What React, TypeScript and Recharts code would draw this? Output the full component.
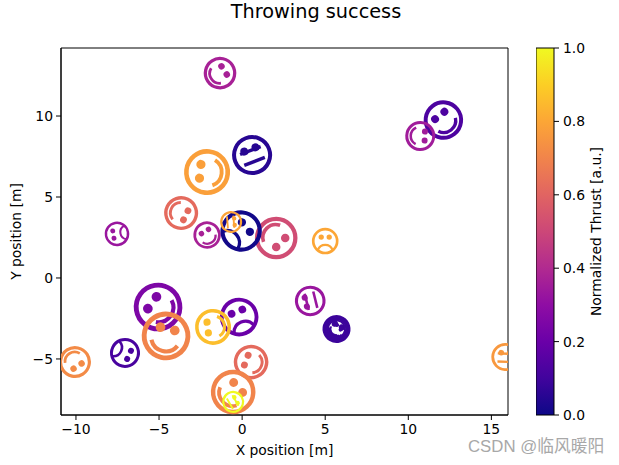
import { Bar, BarChart, ReferenceArea, Scatter, ScatterChart, XAxis, YAxis } from 'recharts';

const xValues = [-1.33, 0.6, -2.11, -3.67, -7.53, -2.11, 2.05, -0.06, -0.66, 5.0, -0.18, 4.1, 5.68, 5.68, 5.68, 5.68, -5.06, -4.58, -1.75, -7.05, -10.06, 0.54, -0.54, -0.54, 12.11, 10.72, 15.84];
const yValues = [12.65, 7.59, 6.54, 4.01, 2.72, 2.65, 2.47, 2.9, 3.46, 2.28, -2.41, -1.42, -3.15, -3.15, -3.15, -3.15, -1.79, -3.58, -3.02, -4.63, -5.19, -5.19, -7.04, -7.65, 9.75, 8.77, -4.88];
const sizes = [16.3, 20, 23, 17, 12.3, 13.7, 21.3, 20.7, 11, 13.3, 19.3, 15.3, 14, 12.5, 11, 9.5, 24.3, 24.3, 18, 15, 16, 17.3, 22.3, 11, 19.7, 15, 14];
const tilts = [57, -21, -84, 116, -100, -31, 135, 50, 85, 0, -22, -104, 30, 20, 40, 55, -54, 13, -97, 115, 147, -69, 48, 60, -38, 92, 2];
const moods = ['smile', 'flat', 'smile', 'smile', 'frown', 'smile', 'smile', 'frown', 'flat', 'frown', 'frown', 'flat', 'smile', 'smile', 'smile', 'smile', 'smile', 'smile', 'smile', 'frown', 'smile', 'smile', 'smile', 'flat', 'smile', 'smile', 'flat'];
const thrusts = [0.37, 0.05, 0.78, 0.62, 0.33, 0.37, 0.52, 0.01, 0.79, 0.8, 0.2, 0.33, 0.09, 0.09, 0.09, 0.09, 0.25, 0.7, 0.86, 0.12, 0.72, 0.62, 0.7, 1.0, 0.13, 0.35, 0.76];

const xTicks = [-10, -5, 0, 5, 10, 15];
const yTicks = [-5, 0, 5, 10];
const barTicks = [0, 0.2, 0.4, 0.6, 0.8, 1];
const plasma = ['#0d0887', '#41049d', '#6a00a8', '#8f0da4', '#b12a90', '#cc4778', '#e16462', '#f1844b', '#fca636', '#fcce25', '#f0f921'];

const points = xValues.map((x, i) => ({
  x,
  y: yValues[i],
  size: sizes[i],
  tilt: tilts[i],
  mood: moods[i],
  thrust: thrusts[i],
}));
const barData = [{ name: 'thrust', value: 1 }];

function hex(c: string) {
  return [1, 3, 5].map((i) => parseInt(c.slice(i, i + 2), 16));
}

function plasmaColor(t: number) {
  const pos = t * (plasma.length - 1);
  const lo = Math.min(Math.floor(pos), plasma.length - 2);
  const a = hex(plasma[lo]);
  const b = hex(plasma[lo + 1]);
  const mix = a.map((v, i) => Math.round(v + (b[i] - v) * (pos - lo)));
  return `rgb(${mix.join(',')})`;
}

function Face(props: any) {
  const { cx, cy, payload } = props;
  const r = payload.size;
  const color = plasmaColor(payload.thrust);
  const line = r * 0.17;
  return (
    <g transform={`translate(${cx} ${cy}) rotate(${payload.tilt})`} fill="none" stroke={color}>
      <circle r={r * 0.9} strokeWidth={r * 0.2} />
      <circle cx={-r * 0.3} cy={-r * 0.3} r={r * 0.2} fill={color} stroke="none" />
      <circle cx={r * 0.3} cy={-r * 0.3} r={r * 0.2} fill={color} stroke="none" />
      {payload.mood === 'smile' && (
        <path d={`M ${-r * 0.55} ${r * 0.29} A ${r * 0.61} ${r * 0.61} 0 0 0 ${r * 0.55} ${r * 0.29}`} strokeWidth={line} />
      )}
      {payload.mood === 'frown' && (
        <path d={`M ${-r * 0.55} ${r * 0.66} A ${r * 0.59} ${r * 0.59} 0 0 1 ${r * 0.55} ${r * 0.66}`} strokeWidth={line} />
      )}
      {payload.mood === 'flat' && (
        <>
          <line x1={-r * 0.55} y1={-r * 0.24} x2={r * 0.55} y2={-r * 0.24} strokeWidth={line} />
          <line x1={-r * 0.55} y1={r * 0.34} x2={r * 0.55} y2={r * 0.34} strokeWidth={line} />
        </>
      )}
    </g>
  );
}

const fontFamily = '"DejaVu Sans", sans-serif';
const tickStyle = { fontSize: 13.9, fill: '#000', fontFamily };
const tickLine = { stroke: '#000' };
const minus = (v: number) => String(v).replace('-', '\u2212');

export default function App() {
  return (
    <div style={{ position: 'absolute', left: 0, top: 0, width: 619, height: 465, background: '#fff', overflow: 'hidden' }}>
      <div style={{ position: 'absolute', left: 0, width: 632, top: 1, textAlign: 'center', fontFamily, fontSize: 19.3, lineHeight: '22px', color: '#000' }}>
        Throwing success
      </div>
      <div style={{ position: 'absolute', left: 0, top: 0 }}>
        <ScatterChart width={619} height={465} margin={{ top: 48, right: 111, bottom: 0, left: 0 }}>
          <XAxis
            type="number"
            dataKey="x"
            domain={[-10.9, 16]}
            ticks={xTicks}
            tickFormatter={minus}
            allowDataOverflow
            height={50}
            tick={tickStyle}
            tickSize={5}
            tickMargin={4}
            axisLine={tickLine}
            tickLine={tickLine}
            label={{ value: 'X position [m]', position: 'insideBottom', offset: 10, style: tickStyle }}
          />
          <YAxis
            type="number"
            dataKey="y"
            domain={[-8.46, 14.2]}
            ticks={yTicks}
            tickFormatter={minus}
            allowDataOverflow
            width={61}
            tick={tickStyle}
            tickSize={5}
            tickMargin={3}
            axisLine={tickLine}
            tickLine={tickLine}
            label={{ value: 'Y position [m]', angle: -90, position: 'insideLeft', offset: 16, style: { ...tickStyle, textAnchor: 'middle' } }}
          />
          <Scatter data={points} shape={Face} isAnimationActive={false} />
          <ReferenceArea x1={-10.9} x2={16} y1={-8.46} y2={14.2} fill="none" stroke="#000" strokeWidth={1} />
        </ScatterChart>
      </div>
      <div style={{ position: 'absolute', left: 536, top: 0 }}>
        <BarChart width={83} height={465} data={barData} barCategoryGap={0} margin={{ top: 48, right: 0, bottom: 50, left: 0 }}>
          <defs>
            <linearGradient id="plasmaBar" x1="0" y1="1" x2="0" y2="0">
              {plasma.map((c, i) => (
                <stop key={c} offset={`${i * 10}%`} stopColor={c} />
              ))}
            </linearGradient>
          </defs>
          <XAxis dataKey="name" hide />
          <YAxis
            orientation="right"
            domain={[0, 1]}
            ticks={barTicks}
            tickFormatter={(v: number) => v.toFixed(1)}
            width={65}
            tick={tickStyle}
            tickSize={5}
            tickMargin={4}
            axisLine={false}
            tickLine={tickLine}
            label={{ value: 'Normalized Thrust [a.u.]', angle: -90, position: 'insideRight', offset: 23, style: { ...tickStyle, textAnchor: 'middle' } }}
          />
          <Bar dataKey="value" fill="url(#plasmaBar)" stroke="#000" strokeWidth={1} isAnimationActive={false} />
        </BarChart>
      </div>
      <div style={{ position: 'absolute', left: 468, top: 437, fontFamily: '"Liberation Sans", "Noto Sans CJK SC", sans-serif', fontSize: 16.8, lineHeight: '20px', color: '#a8a8a8', whiteSpace: 'nowrap' }}>
        CSDN @临风暖阳
      </div>
    </div>
  );
}
